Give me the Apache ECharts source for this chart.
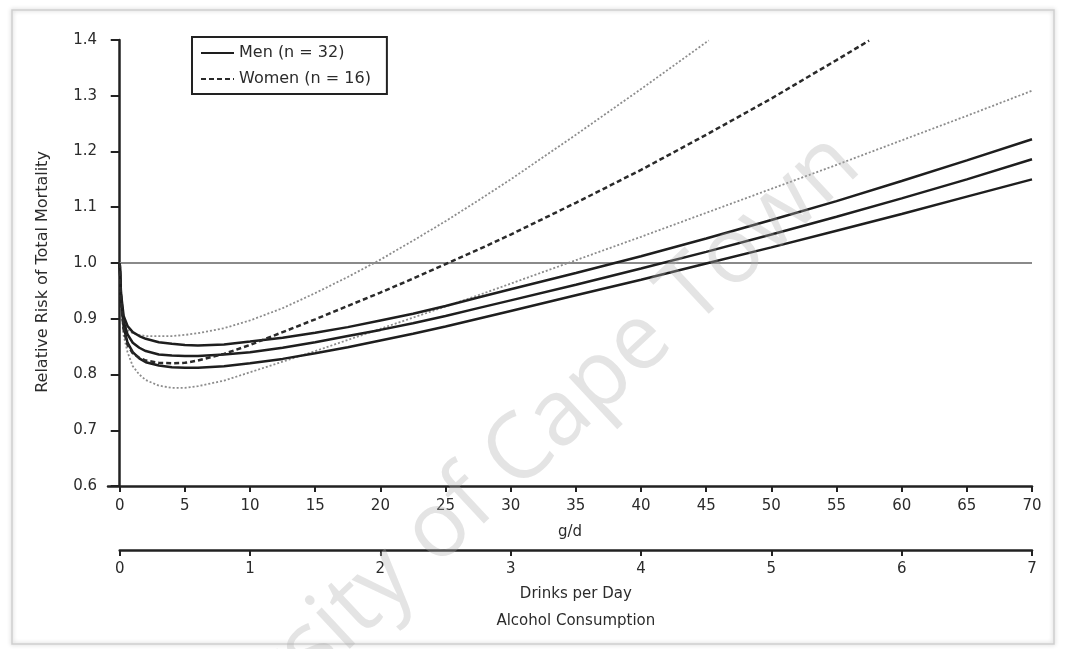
<!DOCTYPE html>
<html>
<head>
<meta charset="utf-8">
<script src="https://cdn.jsdelivr.net/npm/echarts@6/dist/echarts.min.js"></script>
<style>
  html, body { margin: 0; padding: 0; background: #fff; }
  #chart { width: 1067px; height: 649px; }
</style>
</head>
<body>
<div id="chart"></div>
<script>
// alcohol intake, grams per day
var gd = [0, 0.1, 0.3, 0.6, 1, 1.5, 2, 3, 4, 5, 6, 8, 10, 12.5, 15, 17.5, 20, 22.5, 25, 27.5, 30, 35, 40, 45, 50, 55, 60, 65, 70];

// men: pooled curve and its confidence band
var menRR    = [1.0, 0.94, 0.895, 0.872, 0.857, 0.848, 0.842, 0.836, 0.834, 0.833, 0.833, 0.836, 0.840, 0.848, 0.858, 0.869, 0.880, 0.892, 0.905, 0.919, 0.933, 0.961, 0.990, 1.020, 1.051, 1.083, 1.116, 1.150, 1.186];
var menUpper = [1.0, 0.945, 0.905, 0.887, 0.876, 0.869, 0.864, 0.858, 0.855, 0.853, 0.852, 0.854, 0.859, 0.866, 0.875, 0.885, 0.897, 0.909, 0.923, 0.938, 0.953, 0.982, 1.012, 1.044, 1.077, 1.111, 1.147, 1.184, 1.222];
var menLower = [1.0, 0.935, 0.885, 0.857, 0.840, 0.829, 0.822, 0.816, 0.813, 0.812, 0.812, 0.815, 0.820, 0.828, 0.838, 0.849, 0.861, 0.873, 0.886, 0.900, 0.914, 0.942, 0.970, 0.999, 1.028, 1.058, 1.088, 1.119, 1.150];

// women: two curves leave the plot at the top, so they have their own x lists
var womenX     = [0, 0.1, 0.3, 0.6, 1, 1.5, 2, 3, 4, 5, 6, 8, 10, 12.5, 15, 17.5, 20, 22.5, 25, 27.5, 30, 35, 40, 45, 50, 55, 57.5];
var womenRR    = [1.0, 0.935, 0.88, 0.853, 0.838, 0.830, 0.825, 0.821, 0.820, 0.821, 0.825, 0.837, 0.853, 0.876, 0.899, 0.923, 0.947, 0.972, 0.998, 1.024, 1.051, 1.108, 1.167, 1.230, 1.295, 1.364, 1.399];
var womenUpX   = [0, 0.1, 0.3, 0.6, 1, 1.5, 2, 3, 4, 5, 6, 8, 10, 12.5, 15, 17.5, 20, 22.5, 25, 27.5, 30, 35, 40, 45, 45.2];
var womenUpper = [1.0, 0.94, 0.895, 0.880, 0.874, 0.871, 0.869, 0.869, 0.869, 0.871, 0.874, 0.883, 0.897, 0.919, 0.946, 0.975, 1.006, 1.040, 1.075, 1.112, 1.150, 1.230, 1.312, 1.396, 1.399];
var womenLower = [1.0, 0.93, 0.87, 0.84, 0.815, 0.800, 0.790, 0.780, 0.776, 0.776, 0.779, 0.789, 0.804, 0.823, 0.842, 0.862, 0.882, 0.902, 0.922, 0.942, 0.963, 1.005, 1.047, 1.090, 1.133, 1.176, 1.220, 1.264, 1.309];

var refX = [0, 70];
var refY = [1, 1];

var gdTicks = [0, 5, 10, 15, 20, 25, 30, 35, 40, 45, 50, 55, 60, 65, 70];

function pairs(xs, ys) {
    return xs.map(function (x, i) { return [x, ys[i]]; });
}

var font = '"DejaVu Sans", "Liberation Sans", sans-serif';
var ink = '#222';
var txt = '#2b2b2b';

function curve(name, data, color, width, dash) {
    return {
        name: name,
        type: 'line',
        symbol: 'none',
        data: data,
        itemStyle: { color: color },
        lineStyle: { color: color, width: width, type: dash || 'solid' }
    };
}

var myChart = echarts.init(document.getElementById('chart'));
myChart.setOption({
    animation: false,
    backgroundColor: '#fff',
    textStyle: { fontFamily: font },

    graphic: [
        {
            type: 'rect',
            z: -10,
            shape: { x: 12, y: 10, width: 1042, height: 634 },
            style: { fill: 'none', stroke: '#cfcfcf', lineWidth: 1.5, shadowBlur: 4, shadowColor: 'rgba(0,0,0,0.25)' }
        },
        {
            // watermark of the source document
            type: 'text',
            z: 100,
            x: 846,
            y: 150,
            rotation: 43 * Math.PI / 180,
            style: {
                text: 'University of Cape Town',
                font: '92px "Open Sans", "Noto Sans", sans-serif',
                fill: 'rgba(175,175,175,0.34)',
                textAlign: 'right',
                textVerticalAlign: 'middle'
            }
        }
    ],

    legend: {
        orient: 'vertical',
        left: 192,
        top: 37,
        padding: [8, 16, 7, 8],
        itemGap: 10,
        itemWidth: 33,
        itemHeight: 14,
        borderColor: ink,
        borderWidth: 2,
        itemStyle: { color: 'rgba(0,0,0,0)', borderWidth: 0, opacity: 0 },
        textStyle: { color: txt, fontSize: 16, fontFamily: font, lineHeight: 16 },
        data: ['Men (n = 32)', 'Women (n = 16)']
    },

    grid: [
        { left: 108, right: 35, top: 40, bottom: 163 },
        { left: 119.7, right: 35, top: 549, height: 1 }
    ],

    xAxis: [
        {
            type: 'value',
            gridIndex: 0,
            min: -0.9,
            max: 70,
            name: 'g/d',
            nameLocation: 'middle',
            nameGap: 39,
            nameTextStyle: { color: txt, fontSize: 15, fontFamily: font },
            axisLine: { onZero: false, lineStyle: { color: ink, width: 2.5 } },
            axisTick: { length: 6, customValues: gdTicks, lineStyle: { color: ink, width: 2 } },
            axisLabel: { customValues: gdTicks, margin: 13, color: txt, fontSize: 15, fontFamily: font },
            splitLine: { show: false }
        },
        {
            type: 'value',
            gridIndex: 1,
            min: 0,
            max: 7,
            interval: 1,
            position: 'bottom',
            name: 'Drinks per Day\nAlcohol Consumption',
            nameLocation: 'middle',
            nameGap: 31,
            nameTextStyle: { color: txt, fontSize: 15, fontFamily: font, lineHeight: 27 },
            axisLine: { onZero: false, lineStyle: { color: ink, width: 2.5 } },
            axisTick: { length: 6, lineStyle: { color: ink, width: 2 } },
            axisLabel: { margin: 12, color: txt, fontSize: 15, fontFamily: font },
            splitLine: { show: false }
        }
    ],

    yAxis: [
        {
            type: 'value',
            gridIndex: 0,
            min: 0.6,
            max: 1.4,
            interval: 0.1,
            name: 'Relative Risk of Total Mortality',
            nameLocation: 'middle',
            nameGap: 57,
            nameTextStyle: { color: txt, fontSize: 16, fontFamily: font, padding: [0, 18, 0, 0] },
            axisLine: { show: true, lineStyle: { color: ink, width: 2.5 } },
            axisTick: { show: true, length: 9, lineStyle: { color: ink, width: 2 } },
            axisLabel: {
                margin: 11, color: txt, fontSize: 15, fontFamily: font,
                formatter: function (v) { return v.toFixed(1); }
            },
            splitLine: { show: false }
        },
        { type: 'value', gridIndex: 1, show: false, min: 0, max: 1 }
    ],

    series: [
        curve('reference', pairs(refX, refY), '#8a8a8a', 2),
        curve('women upper', pairs(womenUpX, womenUpper), '#8c8c8c', 1.8, [2, 2]),
        curve('women lower', pairs(gd, womenLower), '#8c8c8c', 1.8, [2, 2]),
        curve('men upper', pairs(gd, menUpper), '#1e1e1e', 2.5),
        curve('men lower', pairs(gd, menLower), '#1e1e1e', 2.5),
        curve('Men (n = 32)', pairs(gd, menRR), '#1e1e1e', 2.5),
        curve('Women (n = 16)', pairs(womenX, womenRR), '#2a2a2a', 2.5, [5, 3])
    ]
});
</script>
</body>
</html>
